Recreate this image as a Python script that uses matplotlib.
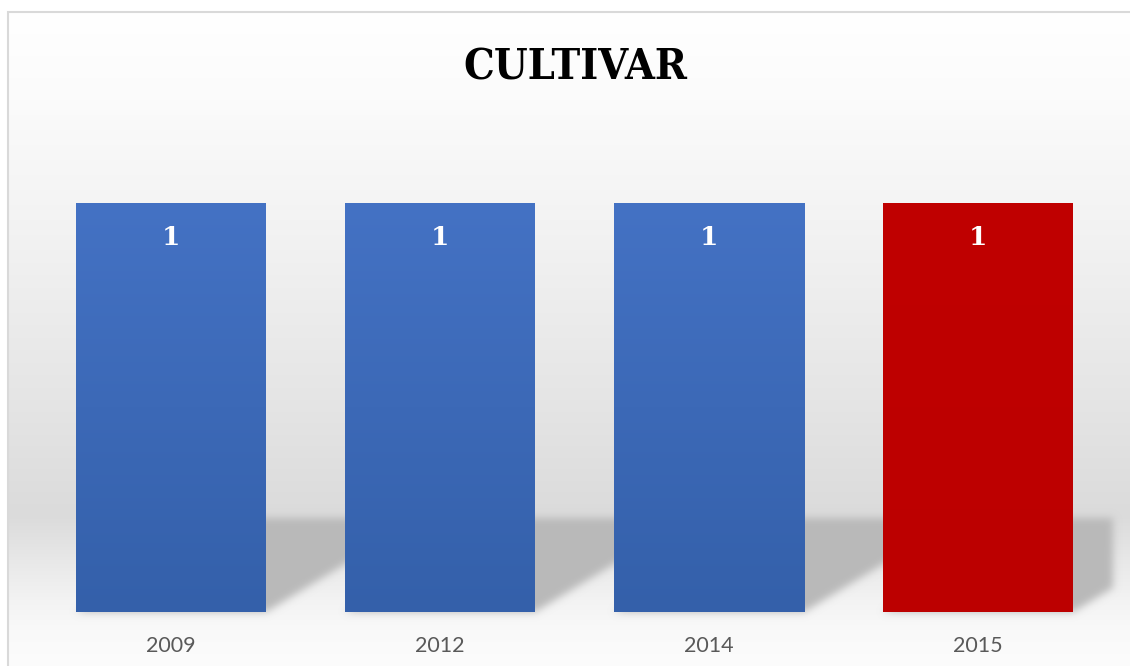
import numpy as np
import matplotlib
matplotlib.use('Agg')
import matplotlib.pyplot as plt
from matplotlib.colors import LinearSegmentedColormap, to_rgb
from matplotlib.patches import Polygon, Rectangle
from matplotlib.collections import PatchCollection

# datos
anios = ['2009', '2012', '2014', '2015']
cultivar = [1, 1, 1, 1]
colores = ['#4472c4', '#4472c4', '#4472c4', '#c00000']
colores_base = ['#3460aa', '#3460aa', '#3460aa', '#bc0000']


class Desenfoque:
    """Filtro gaussiano para suavizar las sombras."""

    def __init__(self, sigma, color):
        self.sigma = sigma
        self.color = to_rgb(color)

    def __call__(self, img, dpi):
        pad = int(3 * self.sigma)
        a = np.pad(img[..., 3], pad)
        k = np.exp(-0.5 * (np.arange(-pad, pad + 1) / self.sigma) ** 2)
        k /= k.sum()
        tmp = np.zeros_like(a)
        for i, w in enumerate(k):
            tmp += w * np.roll(a, i - pad, axis=1)
        res_a = np.zeros_like(tmp)
        for i, w in enumerate(k):
            res_a += w * np.roll(tmp, i - pad, axis=0)
        res = np.empty(res_a.shape + (4,))
        res[..., :3] = self.color
        res[..., 3] = res_a
        return res, -pad, -pad


W, H = 1130, 666
fig = plt.figure(figsize=(W / 100, H / 100), dpi=100)
fig.patch.set_facecolor('white')

# fondo del grafico con degradado gris
marco_x = 8 / W
marco_y = (H - 12) / H
fondo = fig.add_axes([marco_x, 0, 1 - marco_x, marco_y], zorder=0)
filas = np.arange(12, H)
tono = np.interp(filas,
                 [12, 100, 250, 400, 515, 540, 560, 600, 630, 666],
                 [255, 251, 241, 229, 219, 226, 232, 243, 249, 252]) / 255
grad = np.repeat(tono[:, None], 3, axis=1)[:, None, :]
fondo.imshow(grad, aspect='auto', extent=[0, 1, 0, 1], interpolation='bilinear')
fondo.axis('off')

# area de trazado
izq, der = 36.5 / W, 1112.5 / W
abajo, arriba = (H - 612) / H, (H - 121.2) / H
ax = fig.add_axes([izq, abajo, der - izq, arriba - abajo], zorder=1)
ax.patch.set_visible(False)

x = np.arange(len(anios))
ancho = 190 / 269

# sombras en perspectiva detras de las barras
dx, dy = 155 / 269, 94 / 409
sombras = [Polygon([(xi - ancho / 2, 0), (xi + ancho / 2, 0),
                    (xi + ancho / 2 + dx, v * dy), (xi - ancho / 2 + dx, v * dy)])
           for xi, v in zip(x, cultivar)]
col = PatchCollection(sombras, facecolor='#b9b9b9', edgecolor='none', zorder=1)
col.set_agg_filter(Desenfoque(4, '#b9b9b9'))
ax.add_collection(col)

barras = ax.bar(x, cultivar, width=ancho, color=colores, edgecolor='none', zorder=2)

# degradado vertical dentro de cada barra
for barra, c1, c2 in zip(barras, colores, colores_base):
    cmap = LinearSegmentedColormap.from_list('barra', [c2, c1])
    x0 = barra.get_x()
    x1 = x0 + barra.get_width()
    im = ax.imshow(np.linspace(0, 1, 256)[:, None], extent=[x0, x1, 0, barra.get_height()],
                   origin='lower', cmap=cmap, aspect='auto', zorder=2.5,
                   interpolation='bilinear')
    im.set_clip_path(barra)

for xi, v in zip(x, cultivar):
    ax.annotate(f'{v}', xy=(xi, v), xytext=(0, -22), textcoords='offset pixels',
                ha='center', va='top', color='white', fontsize=19,
                fontweight='bold', family='DejaVu Serif', zorder=4)

ax.set_xlim(-0.5, 3.5)
ax.set_ylim(0, 1.2)
ax.set_xticks(x, anios, fontsize=15.5, color='#595959', family='Lato')
ax.tick_params(length=0, pad=17)
ax.set_yticks([])
for s in ax.spines.values():
    s.set_visible(False)

fig.text(575 / W, (H - 79) / H, 'CULTIVAR', ha='center', va='baseline',
         fontsize=31, fontweight='bold', family='DejaVu Serif',
         fontstretch='condensed')

# marco del grafico
fig.add_artist(Rectangle((marco_x, -0.1), 1.2, marco_y + 0.1, transform=fig.transFigure,
                         fill=False, edgecolor='#d9d9d9', linewidth=1.5, zorder=5))

fig.savefig('out.png', dpi=100)
